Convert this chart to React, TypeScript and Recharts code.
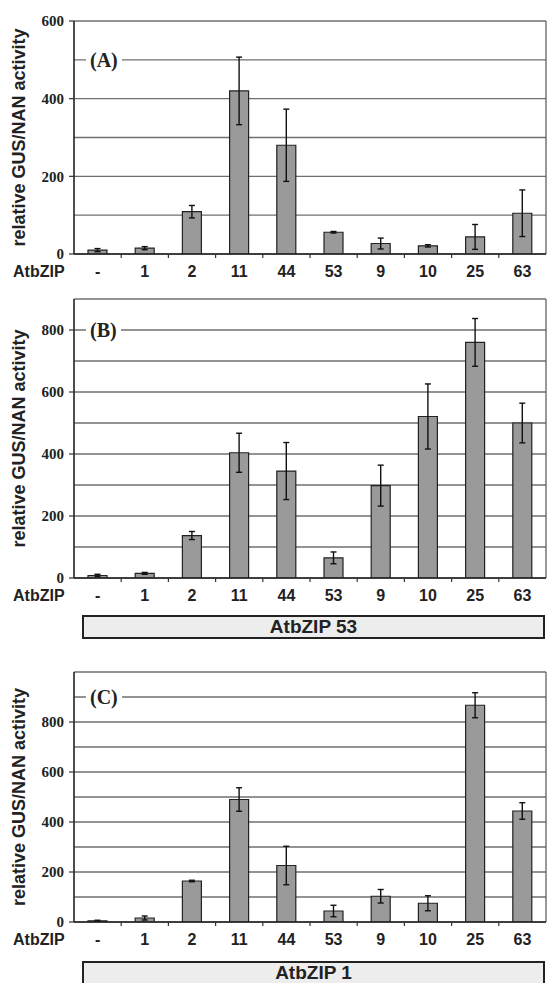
import React from 'react';
import { BarChart, Bar, XAxis, YAxis, CartesianGrid, ErrorBar, Label, ReferenceLine } from 'recharts';

const categories = ['-', '1', '2', '11', '44', '53', '9', '10', '25', '63'];

const valuesA = [10, 15, 109, 420, 280, 56, 27, 21, 44, 105];
const errorsA = [4, 4, 16, 87, 93, 2, 14, 3, 32, 60];

const valuesB = [8, 15, 137, 404, 345, 65, 298, 521, 760, 500];
const errorsB = [4, 3, 13, 63, 92, 19, 66, 105, 77, 64];

const valuesC = [5, 16, 164, 490, 226, 44, 103, 75, 867, 444];
const errorsC = [2, 8, 3, 47, 77, 23, 27, 30, 50, 33];

const gridTicksA = [0, 100, 200, 300, 400, 500, 600];
const labelTicksA = [0, 200, 400, 600];
const gridTicksB = [0, 100, 200, 300, 400, 500, 600, 700, 800, 900];
const labelTicksB = [0, 200, 400, 600, 800];
const gridTicksC = [0, 100, 200, 300, 400, 500, 600, 700, 800, 900, 1000];
const labelTicksC = [0, 200, 400, 600, 800];

const yTitle = 'relative GUS/NAN activity';
const xTitle = 'AtbZIP';

const SANS = '"Liberation Sans", Arial, sans-serif';
const SERIF = '"Liberation Serif", "Times New Roman", serif';

const xTicks = categories.flatMap((_, i) => (i === 0 ? [0.5] : [i, i + 0.5]));

function XTick(props: any) {
  const { x, y, payload } = props;
  const v = payload.value as number;
  if (Number.isInteger(v)) {
    return <line x1={x} x2={x} y1={y} y2={y + 4} stroke="#333" strokeWidth={1.2} />;
  }
  return (
    <text x={x} y={y + 23} textAnchor="middle" fontFamily={SANS} fontWeight="bold" fontSize={16} fill="#222">
      {categories[Math.floor(v)]}
    </text>
  );
}

function makeYTick(labels: number[]) {
  return (props: any) => {
    const { x, y, payload } = props;
    const v = payload.value as number;
    if (!labels.includes(v)) return <g />;
    return (
      <g>
        <line x1={x - 5} x2={x} y1={y} y2={y} stroke="#333" strokeWidth={1.2} />
        <text x={x - 10} y={y} dy="0.35em" textAnchor="end" fontFamily={SERIF} fontWeight="bold" fontSize={15} fill="#222">
          {v}
        </text>
      </g>
    );
  };
}

function YTitle(props: any) {
  const vb = props.viewBox || { x: 0, y: 0, width: 0, height: 0 };
  const cx = 19;
  const cy = vb.y + vb.height / 2;
  return (
    <text
      x={cx}
      y={cy}
      transform={`rotate(-90, ${cx}, ${cy})`}
      textAnchor="middle"
      dominantBaseline="central"
      fontFamily={SANS}
      fontWeight="bold"
      fontSize={18}
      fill="#222"
    >
      {yTitle}
    </text>
  );
}

type PanelProps = {
  top: number;
  height: number;
  marginTop: number;
  values: number[];
  errors: number[];
  gridTicks: number[];
  labelTicks: number[];
  tag: string;
  tagTop: number;
};

function Panel({ top, height, marginTop, values, errors, gridTicks, labelTicks, tag, tagTop }: PanelProps) {
  const data = categories.map((c, i) => ({ pos: i + 0.5, name: c, value: values[i], err: errors[i] }));
  const domainMax = gridTicks[gridTicks.length - 1];
  return (
    <div style={{ position: 'absolute', left: 0, top, width: 547, height }}>
      <BarChart width={547} height={height} data={data} margin={{ top: marginTop, right: 1, bottom: 0, left: 0 }}>
        <CartesianGrid vertical={false} stroke="#6f6f6f" strokeWidth={1.3} />
        <XAxis
          dataKey="pos"
          type="number"
          domain={[0, categories.length]}
          ticks={xTicks}
          interval={0}
          tickSize={0}
          tickMargin={0}
          tickLine={false}
          tick={<XTick />}
          height={30}
          stroke="#222"
          strokeWidth={1.6}
          allowDataOverflow
        />
        <YAxis
          type="number"
          domain={[0, domainMax]}
          ticks={gridTicks}
          interval={0}
          width={74}
          tickSize={0}
          tickMargin={0}
          tickLine={false}
          tick={makeYTick(labelTicks)}
          stroke="#222"
          strokeWidth={1.6}
          allowDataOverflow
        >
          <Label content={YTitle} />
        </YAxis>
        <ReferenceLine x={categories.length} stroke="#555" strokeWidth={1.2} />
        <Bar dataKey="value" fill="#9a9a9a" stroke="#222" strokeWidth={1.2} barSize={19} isAnimationActive={false}>
          <ErrorBar dataKey="err" width={3} stroke="#111" strokeWidth={1.4} />
        </Bar>
      </BarChart>
      <div
        style={{
          position: 'absolute',
          left: 13,
          top: height - 30 + 8,
          fontFamily: SANS,
          fontWeight: 'bold',
          fontSize: 16,
          color: '#222',
          lineHeight: '20px',
        }}
      >
        {xTitle}
      </div>
      <div
        style={{
          position: 'absolute',
          left: 86,
          top: tagTop - 12,
          height: 24,
          lineHeight: '24px',
          padding: '0 4px',
          background: '#fff',
          fontFamily: SERIF,
          fontWeight: 'bold',
          fontSize: 20,
          color: '#222',
        }}
      >
        {tag}
      </div>
    </div>
  );
}

function Box({ top, text }: { top: number; text: string }) {
  return (
    <div
      style={{
        position: 'absolute',
        left: 82,
        top,
        width: 463,
        height: 24,
        boxSizing: 'border-box',
        border: '2px solid #222',
        background: '#ededed',
        fontFamily: SANS,
        fontWeight: 'bold',
        fontSize: 19,
        lineHeight: '20px',
        textAlign: 'center',
        color: '#222',
      }}
    >
      {text}
    </div>
  );
}

export default function App() {
  return (
    <div style={{ position: 'absolute', left: 0, top: 0, width: 547, height: 983, background: '#fff', overflow: 'hidden' }}>
      <Panel top={0} height={284} marginTop={21} values={valuesA} errors={errorsA} gridTicks={gridTicksA} labelTicks={labelTicksA} tag="(A)" tagTop={60} />
      <Panel top={289} height={319} marginTop={10} values={valuesB} errors={errorsB} gridTicks={gridTicksB} labelTicks={labelTicksB} tag="(B)" tagTop={41} />
      <Box top={615} text="AtbZIP 53" />
      <Panel top={662} height={290} marginTop={10} values={valuesC} errors={errorsC} gridTicks={gridTicksC} labelTicks={labelTicksC} tag="(C)" tagTop={35} />
      <Box top={961} text="AtbZIP 1" />
    </div>
  );
}
